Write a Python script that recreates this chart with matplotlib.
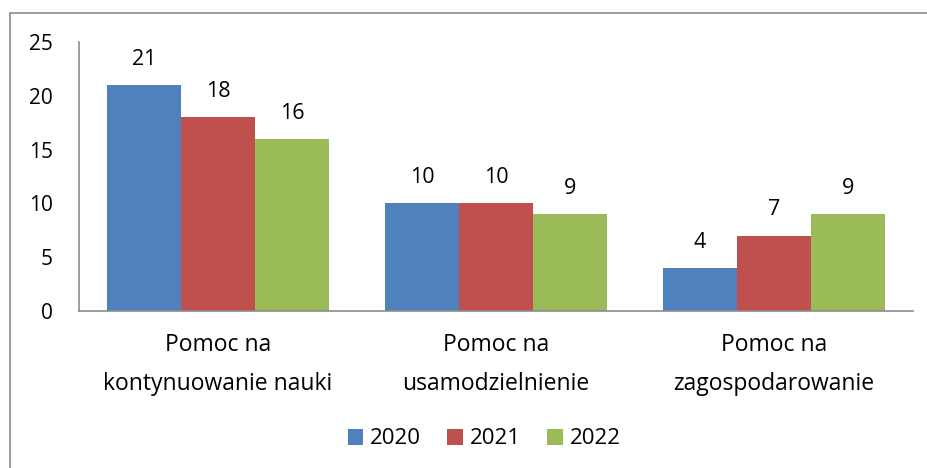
import matplotlib.pyplot as plt
from matplotlib.patches import Rectangle
import numpy as np

categories = ["Pomoc na\nkontynuowanie nauki", "Pomoc na\nusamodzielnienie", "Pomoc na\nzagospodarowanie"]
years = ["2020", "2021", "2022"]
values_2020 = [21, 10, 4]
values_2021 = [18, 10, 7]
values_2022 = [16, 9, 9]
colors = ["#4F81BD", "#C0504D", "#9BBB59"]

plt.rcParams['font.family'] = ['Open Sans', 'DejaVu Sans']

fig = plt.figure(figsize=(9.28, 4.68), dpi=100)
ax = fig.add_axes([79 / 928, 1 - 311 / 468, (913 - 79) / 928, (311 - 42) / 468])

x = np.arange(len(categories))
width = 0.266
series = [values_2020, values_2021, values_2022]
for i, (vals, year, c) in enumerate(zip(series, years, colors)):
    bars = ax.bar(x + (i - 1) * width, vals, width, color=c, label=year)
    for b, v in zip(bars, vals):
        ax.annotate(str(v), (b.get_x() + b.get_width() / 2, v),
                    xytext=(0, 18.5), textcoords='offset points',
                    ha='center', va='center', fontsize=15.5)

ax.set_xlim(-0.5, 2.5)
ax.set_ylim(0, 25)
ax.set_yticks([0, 5, 10, 15, 20, 25])
ax.set_xticks(x)
ax.set_xticklabels(categories, linespacing=1.8)
ax.tick_params(axis='y', length=0, pad=19, labelsize=15)
ax.tick_params(axis='x', length=0, pad=16, labelsize=16.5)
for s in ['top', 'right']:
    ax.spines[s].set_visible(False)
for s in ['left', 'bottom']:
    ax.spines[s].set_color('#8C8C8C')
    ax.spines[s].set_linewidth(1.2)

fig.legend(loc='center', bbox_to_anchor=(484 / 928, 1 - 439 / 468), ncol=3,
           frameon=False, fontsize=16, handlelength=0.7, handleheight=0.7,
           handletextpad=0.3, columnspacing=1.2)

# outer chart border (right/bottom cut off in the reference)
fig.patches.append(Rectangle((10 / 928, -0.05), 1.0, 1 - 13 / 468 + 0.05,
                             transform=fig.transFigure, fill=False,
                             edgecolor='#8C8C8C', linewidth=1.2))

fig.savefig('out.png', dpi=100)
